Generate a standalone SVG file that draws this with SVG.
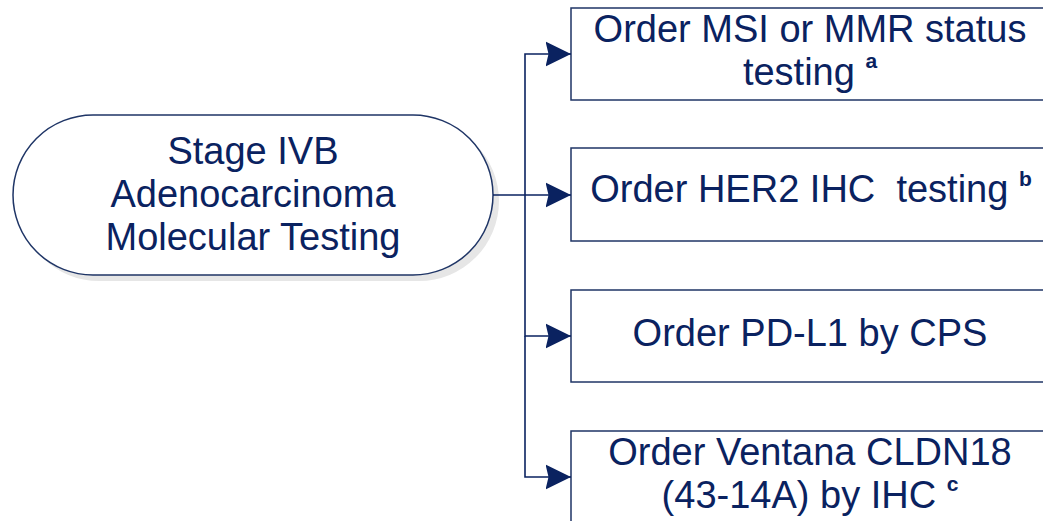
<svg xmlns="http://www.w3.org/2000/svg" width="1043" height="521" viewBox="0 0 1043 521">
  <style>
    .box { fill: #ffffff; stroke: #1f3566; stroke-width: 1.5; }
    .shadow { fill: #e6e6e6; stroke: none; }
    .t { font-family: "Liberation Sans", Arial, sans-serif; font-size: 38px; fill: #0a2260; text-anchor: middle; }
    .sup { font-size: 21px; font-weight: bold; }
    .conn { fill: none; stroke: #0a2260; stroke-width: 1.6; }
  </style>
  <defs>
    <marker id="arrow" markerUnits="userSpaceOnUse" markerWidth="26" markerHeight="26" viewBox="0 -13 26 26" refX="25.5" refY="0" orient="auto">
      <path d="M0,-12.5 L25.5,0 L0,12.5 L3,0 Z" fill="#0a2260"/>
    </marker>
  </defs>
  <rect width="1043" height="521" fill="#ffffff"/>

  <g id="start">
    <rect class="shadow" x="19" y="121" width="480" height="160" rx="80" ry="80"/>
    <rect class="box" x="13" y="115" width="480" height="160" rx="80" ry="80"/>
    <text class="t" x="253" y="164">Stage IVB</text>
    <text class="t" x="253" y="207">Adenocarcinoma</text>
    <text class="t" x="253" y="250">Molecular Testing</text>
  </g>

  <g id="msi">
    <rect class="box" x="571" y="8" width="480" height="92"/>
    <text class="t" x="810" y="42">Order MSI or MMR status</text>
    <text class="t" x="810" y="85">testing <tspan class="sup" dy="-17">a</tspan></text>
  </g>

  <g id="her2">
    <rect class="box" x="571" y="148" width="480" height="93"/>
    <text class="t" x="811" y="202" xml:space="preserve">Order HER2 IHC  testing <tspan class="sup" dy="-16">b</tspan></text>
  </g>

  <g id="pdl1">
    <rect class="box" x="571" y="290" width="480" height="92"/>
    <text class="t" x="810" y="346">Order PD-L1 by CPS</text>
  </g>

  <g id="cldn18">
    <rect class="box" x="571" y="431" width="480" height="100"/>
    <text class="t" x="810" y="465">Order Ventana CLDN18</text>
    <text class="t" x="810" y="508">(43-14A) by IHC <tspan class="sup" dy="-17">c</tspan></text>
  </g>

  <g id="connectors">
    <path class="conn" d="M493,195 L571,195" marker-end="url(#arrow)"/>
    <path class="conn" d="M525,195 L525,54 L571,54" marker-end="url(#arrow)"/>
    <path class="conn" d="M525,195 L525,336 L571,336" marker-end="url(#arrow)"/>
    <path class="conn" d="M525,336 L525,477 L571,477" marker-end="url(#arrow)"/>
  </g>
</svg>
